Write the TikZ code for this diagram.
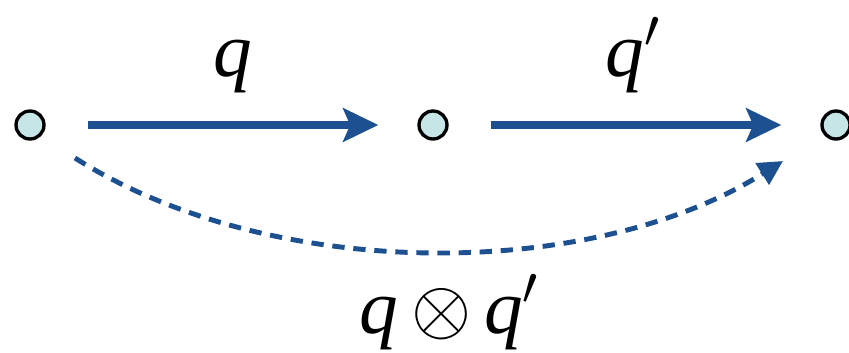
\RequirePackage{fix-cm}
\documentclass[tikz,border=0pt]{standalone}
\usepackage{fontspec}
\setmainfont{Liberation Serif}
\usepackage{tikz}
\usetikzlibrary{arrows.meta}
\definecolor{QBlue}{RGB}{28,80,145}
\definecolor{QDot}{RGB}{198,229,231}

\begin{document}
\begin{tikzpicture}[x=0.02cm, y=-0.02cm,
          dot/.style={circle, draw=black, line width=1.9pt, fill=QDot,
                      minimum size=0.56cm, inner sep=0pt},
          arr/.style={-{Stealth[length=20pt, width=19pt, inset=4pt]}, QBlue,
                      line width=4.6pt, shorten <=0.84cm, shorten >=0.78cm},
          darr/.style={-{Triangle[length=14pt, width=14pt]}, QBlue,
                       line width=2.8pt, dash pattern=on 7pt off 5pt},
          lbl/.style={font=\fontsize{44}{50}\selectfont\itshape, inner sep=0pt, anchor=base}
        ]
        \useasboundingbox (0,0) rectangle (849,352);
        % states
        \node[dot] (a) at (30,125) {};
        \node[dot] (b) at (433,125) {};
        \node[dot] (c) at (836,125) {};

        % single steps
        \draw[arr] (a)--(b);
        \draw[arr] (b)--(c);
        \node[lbl] (q)  at (233,76) {q};
        \node[lbl] (qp) at (633,76) {q$'$};

        % composed step
        \coordinate (ds) at (75,158);
        \coordinate (de) at (783,161);
        \draw[darr] (ds) .. controls (270,282) and (590,282) .. (de);
        \node[lbl] (qq) at (449,333) {q\,$\otimes$\,q$'$};
      \end{tikzpicture}
\end{document}
